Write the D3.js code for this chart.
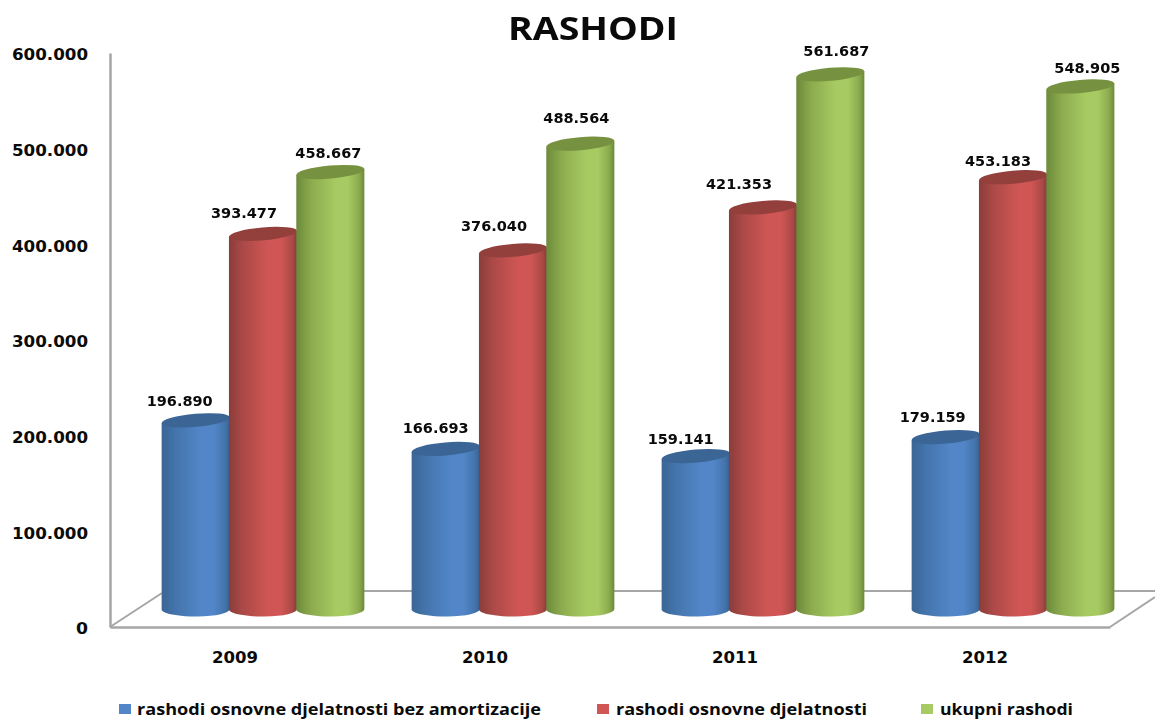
<!DOCTYPE html>
<html>
<head>
<meta charset="utf-8"/>
<title>Rashodi</title>
<script src="https://d3js.org/d3.v7.min.js"></script>
<style>
html, body { margin: 0; background: #fff; overflow: hidden; }
svg { display: block; }
text { fill: #0a0a0a; }
</style>
</head>
<body>
<div id="chart"></div>
<script>
var years = ["2009", "2010", "2011", "2012"];
var seriesNames = ["rashodi osnovne djelatnosti bez amortizacije", "rashodi osnovne djelatnosti", "ukupni rashodi"];
var blueValues = [196890, 166693, 159141, 179159];
var redValues = [393477, 376040, 421353, 453183];
var greenValues = [458667, 488564, 561687, 548905];
var yTicks = [0, 100000, 200000, 300000, 400000, 500000, 600000];

// hand placed label nudges, the labels do not sit centred on the cylinders
var labelDx = [[-16, -10, -15, -13], [-19, -19, -24, -15], [-2, -4, 6, 7]];
var labelDy = [[-14, -16, -12, -15], [-16, -19, -18, -11], [-14, -21, -18, -13]];

var colors = [
	{ edge: "#3a6594", soft: "#4475ad", mid: "#5286c8", top: "#3a6595" },
	{ edge: "#8a3d3a", soft: "#ad4a48", mid: "#cf5654", top: "#93403e" },
	{ edge: "#6b8a3a", soft: "#8cab4e", mid: "#a7ca62", top: "#76923f" }
];

var width = 1155, height = 720;
var svg = d3.select("#chart").append("svg").attr("width", width).attr("height", height);
var defs = svg.append("defs");

colors.forEach(function (c, i) {
	var g = defs.append("linearGradient").attr("id", "cyl" + i);
	g.append("stop").attr("offset", "0%").attr("stop-color", c.edge);
	g.append("stop").attr("offset", "22%").attr("stop-color", c.soft);
	g.append("stop").attr("offset", "58%").attr("stop-color", c.mid);
	g.append("stop").attr("offset", "76%").attr("stop-color", c.mid);
	g.append("stop").attr("offset", "92%").attr("stop-color", c.soft);
	g.append("stop").attr("offset", "100%").attr("stop-color", c.edge);
});
defs.append("filter").attr("id", "soft").append("feGaussianBlur").attr("stdDeviation", 0.5);

// axis scales sit on the front of the floor
var x = d3.scaleBand().domain(years).range([110, 1110]);
var y = d3.scaleLinear().domain([0, 600000]).range([627, 53]);
// cylinders stand further back, so their scale is shifted and a little flatter
var depthX = 28;
var yBar = d3.scaleLinear().domain([0, 600000]).range([607, 38]);
var xInner = d3.scaleBand().domain([0, 1, 2]).range([-101, 101]);

var axisColor = "#a6a6a6";
var floor = svg.append("g").attr("fill", "none").attr("stroke", axisColor).attr("stroke-width", 2);
floor.append("line").attr("x1", 110).attr("y1", 627).attr("x2", 162).attr("y2", 593);
floor.append("line").attr("x1", 162).attr("y1", 591).attr("x2", 1155).attr("y2", 591);
floor.append("line").attr("x1", 1110).attr("y1", 627).attr("x2", 1155).attr("y2", 597);

var fmt = d3.formatLocale({ decimal: ",", thousands: ".", grouping: [3], currency: ["", ""] }).format(",d");

var yAxis = svg.append("g").attr("transform", "translate(110,0)")
	.call(d3.axisLeft(y).tickValues(yTicks).tickFormat(fmt).tickSize(0).tickPadding(22));
yAxis.select(".domain").attr("stroke", axisColor).attr("stroke-width", 2.5);
yAxis.selectAll("text").attr("font-family", "DejaVu Sans").attr("font-weight", "bold").attr("font-size", 16)
	.attr("dy", "0.42em")
	.attr("lengthAdjust", "spacingAndGlyphs")
	.attr("textLength", function (d) { return d === 0 ? 12 : 76; });

var xAxis = svg.append("g").attr("transform", "translate(0,627)")
	.call(d3.axisBottom(x).tickSize(0).tickPadding(25));
xAxis.select(".domain").attr("stroke", axisColor).attr("stroke-width", 2.5);
xAxis.selectAll("text").attr("font-family", "DejaVu Sans").attr("font-weight", "bold").attr("font-size", 16)
	.attr("lengthAdjust", "spacingAndGlyphs").attr("textLength", 46);

var rx = xInner.bandwidth() / 2 + 0.5;
var ry = 6.5;
var tilt = -5;
var rad = tilt * Math.PI / 180;
var dx = rx * Math.cos(rad), dy = rx * Math.sin(rad);

[blueValues, redValues, greenValues].forEach(function (values, s) {
	var g = svg.append("g").attr("filter", "url(#soft)");
	var groups = g.selectAll("g").data(values).enter().append("g")
		.attr("transform", function (d, i) {
			return "translate(" + (x(years[i]) + x.bandwidth() / 2 + depthX + xInner(s) + xInner.bandwidth() / 2) + ",0)";
		});
	groups.append("path")
		.attr("fill", "url(#cyl" + s + ")")
		.attr("d", function (d) {
			var t = yBar(d), b = yBar(0);
			return "M" + (-dx) + "," + (t - dy) +
				"L" + (-dx) + "," + (b + 3) +
				"A" + rx + "," + (ry + 1) + " 0 0 0 " + dx + "," + (b + 2) +
				"L" + dx + "," + (t + dy) + "Z";
		});
	groups.append("ellipse")
		.attr("rx", rx).attr("ry", ry)
		.attr("fill", colors[s].top)
		.attr("transform", function (d) { return "translate(0," + yBar(d) + ") rotate(" + tilt + ")"; });
});

[blueValues, redValues, greenValues].forEach(function (values, s) {
	svg.append("g").selectAll("text").data(values).enter().append("text")
		.attr("x", function (d, i) {
			return x(years[i]) + x.bandwidth() / 2 + depthX + xInner(s) + xInner.bandwidth() / 2 + labelDx[s][i];
		})
		.attr("y", function (d, i) { return yBar(d) + labelDy[s][i]; })
		.attr("text-anchor", "middle")
		.attr("font-family", "DejaVu Sans").attr("font-weight", "bold").attr("font-size", 14)
		.attr("lengthAdjust", "spacingAndGlyphs").attr("textLength", 66)
		.text(fmt);
});

svg.append("text").attr("x", 593).attr("y", 40).attr("text-anchor", "middle")
	.attr("font-family", "Open Sans").attr("font-weight", "bold").attr("font-size", 33)
	.attr("lengthAdjust", "spacingAndGlyphs").attr("textLength", 170)
	.text("RASHODI");

var legendX = [119, 597, 921];
var legendLen = [404, 251, 133];
var legend = svg.append("g").selectAll("g").data(seriesNames).enter().append("g")
	.attr("transform", function (d, i) { return "translate(" + legendX[i] + ",704)"; });
legend.append("rect").attr("width", 12).attr("height", 10)
	.attr("fill", function (d, i) { return colors[i].mid; });
legend.append("text").attr("x", function (d, i) { return i === 0 ? 18 : 19; }).attr("y", 11)
	.attr("font-family", "Open Sans").attr("font-weight", "bold").attr("font-size", 16)
	.attr("lengthAdjust", "spacingAndGlyphs")
	.attr("textLength", function (d, i) { return legendLen[i]; })
	.text(function (d) { return d; });
</script>
</body>
</html>
